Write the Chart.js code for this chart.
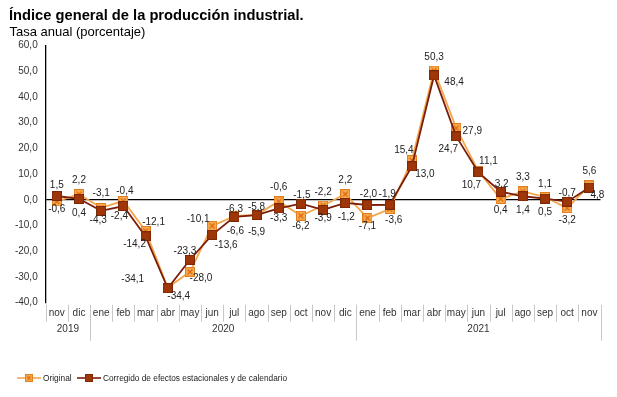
<!DOCTYPE html>
<html>
<head>
<meta charset="utf-8">
<script src="https://cdn.jsdelivr.net/npm/chart.js@4.4.1/dist/chart.umd.min.js"></script>
<style>
html,body{margin:0;padding:0;background:#fff;}
#c{display:block;}
</style>
</head>
<body>
<canvas id="c" width="617" height="397"></canvas>
<script>
// ---- data ----
const months = ['nov','dic','ene','feb','mar','abr','may','jun','jul','ago','sep','oct','nov','dic','ene','feb','mar','abr','may','jun','jul','ago','sep','oct','nov'];
const yearLabels = ['2019','2020','2021'];
const yearSpans = [2, 12, 11];
const original  = [-0.6, 2.2, -3.1, -0.4, -12.1, -34.1, -28.0, -10.1, -6.3, -5.8, -0.6, -6.2, -2.2, 2.2, -7.1, -3.6, 15.4, 50.3, 27.9, 11.1, 0.4, 3.3, 1.1, -3.2, 5.6];
const corrected = [1.5, 0.4, -4.3, -2.4, -14.2, -34.4, -23.3, -13.6, -6.6, -5.9, -3.3, -1.5, -3.9, -1.2, -2.0, -1.9, 13.0, 48.4, 24.7, 10.7, 3.2, 1.4, 0.5, -0.7, 4.8];
const seriesNames = ['Original', 'Corregido de efectos estacionales y de calendario'];
const yTicks = [-40, -30, -20, -10, 0, 10, 20, 30, 40, 50, 60];

// ---- label placement (offsets from each point, px) ----
const offO = [[0,8],[0,-13.6],[0,-15],[1.5,-9.5],[8,-9],[-35,-8],[11,6],[-14,-7],[0,-7],[0,-8],[0,-14],[0,10],[0,-13],[0,-13.6],[0,8],[4,11],[-8,-10],[0,-13],[16,3],[10,-10],[0,11],[0,-14],[0,-13],[0,12],[0,-14]];
const offC = [[0,-11],[0,14],[-3,9],[-4,10],[-11,8],[11,8],[-5,-9],[14,10],[1,14],[0,17.5],[0,10],[1,-8],[0,8],[1,14],[1,-11],[-2.5,-10.5],[13,8],[20,7],[-8,13],[-7,12.5],[1,-7],[0,14],[0,14],[0,-8.5],[8,8]];

const FONT = '"Liberation Sans", Arial, sans-serif';
const colO = '#F4A64C', colC = '#7A1E0A';

function makeMarker(kind){
  const s = 10, cv = document.createElement('canvas');
  cv.width = s; cv.height = s;
  const g = cv.getContext('2d');
  if (kind === 'o') {
    g.fillStyle = '#F7AE52'; g.fillRect(0.5,0.5,s-1,s-1);
    g.strokeStyle = '#E27C1C'; g.lineWidth = 1; g.strokeRect(0.5,0.5,s-1,s-1);
    g.strokeStyle = '#E0660E'; g.lineWidth = 1.3;
    g.beginPath(); g.moveTo(2.5,2.5); g.lineTo(s-2.5,s-2.5); g.moveTo(s-2.5,2.5); g.lineTo(2.5,s-2.5); g.stroke();
  } else {
    g.fillStyle = '#9E3609'; g.fillRect(0.5,0.5,s-1,s-1);
    g.strokeStyle = '#7E2806'; g.lineWidth = 1; g.strokeRect(0.5,0.5,s-1,s-1);
  }
  return cv;
}
const mO = makeMarker('o'), mC = makeMarker('c');

const fmt = v => v.toFixed(1).replace('.', ',');

const decor = {
  id: 'decor',
  beforeDraw(chart){
    const ctx = chart.ctx;
    ctx.save(); ctx.fillStyle = '#fff'; ctx.fillRect(0,0,chart.width,chart.height); ctx.restore();
  },
  afterDatasetsDraw(chart){
    const ctx = chart.ctx;
    ctx.save();
    ctx.font = '10px ' + FONT;
    ctx.fillStyle = '#222';
    ctx.textAlign = 'center'; ctx.textBaseline = 'middle';
    const sets = [[0, original, offO], [1, corrected, offC]];
    sets.forEach(([di, vals, offs]) => {
      const meta = chart.getDatasetMeta(di);
      meta.data.forEach((pt, i) => {
        ctx.fillText(fmt(vals[i]), pt.x + offs[i][0], pt.y + offs[i][1]);
      });
    });
    ctx.restore();
  },
  afterDraw(chart){
    const ctx = chart.ctx, xs = chart.scales.x, ca = chart.chartArea;
    ctx.save();
    const n = months.length;
    const step = xs.getPixelForValue(1) - xs.getPixelForValue(0);
    const bound = i => {
      if (i === 0) return xs.getPixelForValue(0) - step / 2;
      if (i === n) return xs.getPixelForValue(n-1) + step / 2;
      return (xs.getPixelForValue(i-1) + xs.getPixelForValue(i)) / 2;
    };
    const yearBounds = [0]; yearSpans.forEach(s => yearBounds.push(yearBounds[yearBounds.length-1] + s));
    ctx.strokeStyle = '#C8C8C8'; ctx.lineWidth = 1;
    for (let i = 0; i <= n; i++) {
      const x = Math.round(bound(i)) + 0.5;
      const long = yearBounds.includes(i) && i !== 0;
      ctx.beginPath(); ctx.moveTo(x, ca.bottom + 2); ctx.lineTo(x, long ? ca.bottom + 38 : ca.bottom + 19); ctx.stroke();
    }
    ctx.fillStyle = '#333'; ctx.font = '10px ' + FONT; ctx.textAlign = 'center'; ctx.textBaseline = 'middle';
    yearLabels.forEach((y, k) => {
      const a = bound(yearBounds[k]), b = bound(yearBounds[k+1]);
      ctx.fillText(y, (a + b) / 2, ca.bottom + 27);
    });
    ctx.textAlign = 'left'; ctx.textBaseline = 'alphabetic'; ctx.fillStyle = '#000';
    ctx.font = 'bold 14.7px ' + FONT;
    ctx.fillText('Índice general de la producción industrial.', 9, 20);
    ctx.font = '13px ' + FONT;
    ctx.fillText('Tasa anual (porcentaje)', 9.5, 35.7);
    const ly = 378;
    const items = [[17, 41, colO, mO, seriesNames[0]], [77, 101, colC, mC, seriesNames[1]]];
    ctx.font = '8.3px ' + FONT; ctx.textBaseline = 'middle';
    items.forEach(([x0, x1, col, mk, txt]) => {
      ctx.strokeStyle = col; ctx.lineWidth = 1.6;
      ctx.beginPath(); ctx.moveTo(x0, ly); ctx.lineTo(x1, ly); ctx.stroke();
      ctx.drawImage(mk, (x0 + x1) / 2 - 4, ly - 4, 8, 8);
      ctx.fillStyle = '#222';
      ctx.fillText(txt, x1 + 2, ly + 0.5);
    });
    ctx.restore();
  }
};

new Chart(document.getElementById('c'), {
  type: 'line',
  data: {
    labels: months,
    datasets: [
      { label: seriesNames[0], data: original, borderColor: colO, backgroundColor: colO, borderWidth: 1.8,
        pointStyle: mO, pointRadius: 5, tension: 0, order: 1 },
      { label: seriesNames[1], data: corrected, borderColor: colC, backgroundColor: colC, borderWidth: 1.8,
        pointStyle: mC, pointRadius: 5, tension: 0, order: 0 }
    ]
  },
  options: {
    responsive: false,
    animation: false,
    devicePixelRatio: 1,
    layout: { padding: { left: 0, top: 45.6, right: 16.5, bottom: 74.3 } },
    plugins: { legend: { display: false }, tooltip: { enabled: false }, title: { display: false } },
    scales: {
      x: {
        offset: true,
        grid: { display: false, drawTicks: false },
        border: { display: false },
        ticks: { font: { size: 10, family: FONT }, color: '#333', padding: 5, maxRotation: 0, autoSkip: false },
        afterFit: s => { s.height = 20; }
      },
      y: {
        min: -40, max: 60,
        afterBuildTicks: s => { s.ticks = yTicks.map(v => ({ value: v })); },
        ticks: { font: { size: 10, family: FONT }, color: '#333', padding: 8, callback: v => fmt(v) },
        grid: { drawTicks: false, color: c => (c.tick && c.tick.value === 0) ? '#000' : 'rgba(0,0,0,0)', lineWidth: 1.3 },
        border: { display: true, color: '#000', width: 1.3 },
        afterFit: s => { s.width = 45.7; }
      }
    }
  },
  plugins: [decor]
});
</script>
</body>
</html>
